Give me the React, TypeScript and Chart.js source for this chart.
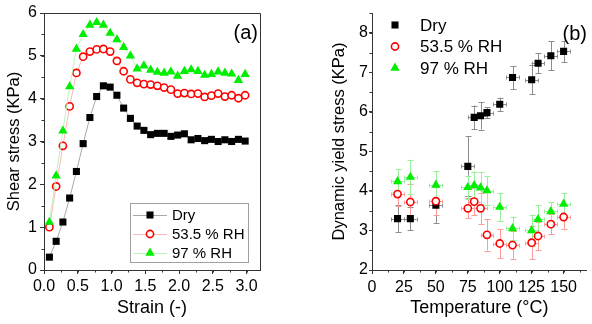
import React, { useEffect, useRef, useState } from 'react';
import { Chart, registerables } from 'chart.js';
import { drawPoint } from 'chart.js/helpers';

Chart.register(...registerables);

const FONT = "'Liberation Sans', Arial, Helvetica, sans-serif";

// ---------- Panel (a): shear stress vs strain ----------
const strain = [
  0.08, 0.18, 0.28, 0.38, 0.48, 0.58, 0.68, 0.78, 0.88, 0.98,
  1.08, 1.18, 1.28, 1.38, 1.48, 1.58, 1.68, 1.78, 1.88, 1.98,
  2.08, 2.18, 2.28, 2.38, 2.48, 2.58, 2.68, 2.78, 2.88, 2.98,
];
const dryStress = [
  0.3, 0.67, 1.12, 1.68, 2.3, 2.95, 3.56, 4.05, 4.3, 4.27,
  4.08, 3.78, 3.54, 3.36, 3.26, 3.16, 3.19, 3.19, 3.12, 3.15,
  3.18, 3.04, 3.07, 3.02, 3.05, 3.0, 3.04, 3.0, 3.05, 3.01,
];
const rh535Stress = [
  1.0, 1.95, 2.9, 3.82, 4.6, 4.98, 5.1, 5.15, 5.16, 5.1,
  4.88, 4.64, 4.45, 4.37, 4.34, 4.33, 4.3, 4.26, 4.21, 4.12,
  4.13, 4.11, 4.12, 4.04, 4.07, 4.12, 4.05, 4.08, 4.01, 4.08,
];
const rh97Stress = [
  1.12, 2.2, 3.25, 4.28, 5.16, 5.5, 5.72, 5.78, 5.72, 5.53,
  5.38, 5.2, 5.0, 4.7, 4.77, 4.67, 4.62, 4.6, 4.63, 4.53,
  4.64, 4.68, 4.64, 4.55, 4.57, 4.63, 4.6, 4.58, 4.43, 4.57,
];
const strainTicks = [0, 0.5, 1.0, 1.5, 2.0, 2.5, 3.0];
const stressTicks = [0, 1, 2, 3, 4, 5, 6];

// ---------- Panel (b): dynamic yield stress vs temperature ----------
const temperature = [20, 30, 50, 75, 80, 85, 90, 100, 110, 125, 130, 140, 150];
const dryYield = [3.3, 3.3, 3.64, 4.62, 5.86, 5.9, 5.98, 6.19, 6.87, 6.81, 7.23, 7.42, 7.53];
const dryYieldErr = [0.35, 0.3, 0.45, 0.76, 0.3, 0.35, 0.14, 0.17, 0.29, 0.37, 0.25, 0.37, 0.27];
const rh535Yield = [3.92, 3.72, 3.74, 3.56, 3.73, 3.56, 2.89, 2.67, 2.63, 2.69, 2.86, 3.16, 3.34];
const rh535YieldErr = [0.3, 0.45, 0.35, 0.25, 0.35, 0.4, 0.4, 0.37, 0.35, 0.42, 0.35, 0.25, 0.3];
const rh97Yield = [4.24, 4.35, 4.15, 4.09, 4.14, 4.08, 4.01, 3.59, 3.05, 3.0, 3.28, 3.48, 3.67];
const rh97YieldErr = [0.31, 0.44, 0.35, 0.3, 0.35, 0.4, 0.37, 0.36, 0.3, 0.4, 0.36, 0.24, 0.28];
const temperatureErr = [5, 5, 5, 5, 5, 5, 5, 5, 5, 5, 5, 5, 5];
const temperatureTicks = [0, 25, 50, 75, 100, 125, 150];
const temperatureTickLabels = ['0', '25', '50', '75', '100', '125', '150'];
const yieldTicks = [2, 3, 4, 5, 6, 7, 8];

const seriesLabels = ['Dry', '53.5 % RH', '97 % RH'];

const STYLES = [
  { pointStyle: 'rect', radius: 5, fill: '#000000', stroke: '#000000', bw: 0, line: '#a8a8a8', err: '#8c8c8c' },
  { pointStyle: 'circle', radius: 3.6, fill: '#ffffff', stroke: '#ff0000', bw: 1.6, line: '#ffb8b8', err: '#ff9a9a' },
  { pointStyle: 'triangle', radius: 5.4, fill: '#00ee00', stroke: '#00ee00', bw: 0, line: '#b8f5b8', err: '#99ee99' },
];

const AXIS = '#333333';

function useTicks(values: number[]) {
  return (scale: any) => {
    scale.ticks = values.map((value) => ({ value }));
  };
}

const minorTicksPlugin = {
  id: 'minorTicks',
  afterDraw(chart: any, _args: any, opts: any) {
    const { ctx, chartArea, scales } = chart;
    ctx.save();
    ctx.strokeStyle = AXIS;
    ctx.lineWidth = 1;
    ctx.beginPath();
    const xs = scales.x;
    for (let v = xs.min; v <= xs.max + 1e-9; v += opts.x) {
      const px = Math.round(xs.getPixelForValue(v)) + 0.5;
      ctx.moveTo(px, chartArea.bottom);
      ctx.lineTo(px, chartArea.bottom + 2.5);
    }
    const ys = scales.y;
    for (let v = ys.min; v <= ys.max + 1e-9; v += opts.y) {
      const py = Math.round(ys.getPixelForValue(v)) + 0.5;
      ctx.moveTo(chartArea.left, py);
      ctx.lineTo(chartArea.left - 2.5, py);
    }
    ctx.stroke();
    ctx.restore();
  },
};

const boxPlugin = {
  id: 'boxFrame',
  afterDraw(chart: any) {
    const { ctx, chartArea } = chart;
    ctx.save();
    ctx.strokeStyle = AXIS;
    ctx.lineWidth = 1;
    ctx.beginPath();
    const r = Math.round(chartArea.right) + 0.5;
    const t = Math.round(chartArea.top) + 0.5;
    ctx.moveTo(chartArea.left, t);
    ctx.lineTo(r, t);
    ctx.lineTo(r, chartArea.bottom);
    ctx.stroke();
    ctx.restore();
  },
};

const panelLabelPlugin = {
  id: 'panelLabel',
  afterDraw(chart: any, _a: any, opts: any) {
    const { ctx } = chart;
    ctx.save();
    ctx.font = `20px ${FONT}`;
    ctx.fillStyle = '#000';
    ctx.textAlign = 'right';
    ctx.textBaseline = 'middle';
    ctx.fillText(opts.text, opts.x, opts.y);
    ctx.restore();
  },
};

function drawMarker(ctx: any, s: any, x: number, y: number) {
  ctx.fillStyle = s.fill;
  ctx.strokeStyle = s.stroke;
  ctx.lineWidth = s.bw;
  drawPoint(ctx, { pointStyle: s.pointStyle, radius: s.radius, rotation: 0, borderWidth: s.bw } as any, x, y);
}

const legendAPlugin = {
  id: 'legendA',
  afterDraw(chart: any) {
    const { ctx } = chart;
    ctx.save();
    ctx.fillStyle = '#fff';
    ctx.fillRect(130.5, 203.5, 118, 59);
    ctx.strokeStyle = '#a0a0a0';
    ctx.lineWidth = 1;
    ctx.strokeRect(130.5, 203.5, 118, 59);
    seriesLabels.forEach((label, i) => {
      const s = STYLES[i];
      const y = 215 + i * 19;
      ctx.strokeStyle = s.line;
      ctx.lineWidth = 1;
      ctx.beginPath();
      ctx.moveTo(133, y + 0.5);
      ctx.lineTo(167, y + 0.5);
      ctx.stroke();
      drawMarker(ctx, s, 150, y);
      ctx.fillStyle = '#000';
      ctx.font = `15px ${FONT}`;
      ctx.textAlign = 'left';
      ctx.textBaseline = 'middle';
      ctx.fillText(label, 172, y + 1);
    });
    ctx.restore();
  },
};

const legendBPlugin = {
  id: 'legendB',
  afterDraw(chart: any) {
    const { ctx } = chart;
    ctx.save();
    seriesLabels.forEach((label, i) => {
      const s = STYLES[i];
      const y = 25 + i * 21.5;
      drawMarker(ctx, s, 95, y);
      ctx.fillStyle = '#000';
      ctx.font = `17px ${FONT}`;
      ctx.textAlign = 'left';
      ctx.textBaseline = 'middle';
      ctx.fillText(label, 120, y + 1);
    });
    ctx.restore();
  },
};

const yieldSeries = [
  { values: dryYield, err: dryYieldErr },
  { values: rh535Yield, err: rh535YieldErr },
  { values: rh97Yield, err: rh97YieldErr },
];

const errorBarPlugin = {
  id: 'errorBars',
  beforeDatasetsDraw(chart: any) {
    const { ctx, scales } = chart;
    const xs = scales.x;
    const ys = scales.y;
    ctx.save();
    ctx.lineWidth = 1;
    yieldSeries.forEach((ser, i) => {
      ctx.strokeStyle = STYLES[i].err;
      ctx.beginPath();
      temperature.forEach((t, j) => {
        const v = ser.values[j];
        const e = ser.err[j];
        const px = Math.round(xs.getPixelForValue(t)) + 0.5;
        const py = Math.round(ys.getPixelForValue(v)) + 0.5;
        const yTop = ys.getPixelForValue(v + e);
        const yBot = ys.getPixelForValue(v - e);
        ctx.moveTo(px, yTop);
        ctx.lineTo(px, yBot);
        ctx.moveTo(px - 3, Math.round(yTop) + 0.5);
        ctx.lineTo(px + 3, Math.round(yTop) + 0.5);
        ctx.moveTo(px - 3, Math.round(yBot) + 0.5);
        ctx.lineTo(px + 3, Math.round(yBot) + 0.5);
        const xL = xs.getPixelForValue(t - temperatureErr[j]);
        const xR = xs.getPixelForValue(t + temperatureErr[j]);
        ctx.moveTo(xL, py);
        ctx.lineTo(xR, py);
        ctx.moveTo(Math.round(xL) + 0.5, py - 2);
        ctx.lineTo(Math.round(xL) + 0.5, py + 2);
        ctx.moveTo(Math.round(xR) + 0.5, py - 2);
        ctx.lineTo(Math.round(xR) + 0.5, py + 2);
      });
      ctx.stroke();
    });
    ctx.restore();
  },
};

function axisCommon() {
  return {
    grid: { display: true, drawOnChartArea: false, drawTicks: true, tickLength: 4, color: AXIS, tickColor: AXIS },
    border: { display: true, color: AXIS, width: 1 },
  };
}

function datasetFor(i: number, data: any[], showLine: boolean) {
  const s = STYLES[i];
  return {
    label: seriesLabels[i],
    data,
    showLine,
    borderColor: s.line,
    borderWidth: 1,
    pointStyle: s.pointStyle,
    pointRadius: s.radius,
    pointHoverRadius: s.radius,
    pointBackgroundColor: s.fill,
    pointBorderColor: s.stroke,
    pointBorderWidth: s.bw,
    order: 2 - i,
  };
}

const B_LEFT = 300;

export default function App() {
  const refA = useRef<HTMLCanvasElement>(null);
  const refB = useRef<HTMLCanvasElement>(null);
  const [tempLabels, setTempLabels] = useState<{ x: number; y: number; text: string }[]>([]);

  useEffect(() => {
    document.body.style.margin = '0';
    Chart.defaults.font.family = FONT;
    Chart.defaults.color = '#000';

    const stressSets = [dryStress, rh535Stress, rh97Stress];
    const chartA = new Chart(refA.current as HTMLCanvasElement, {
      type: 'scatter',
      data: {
        datasets: stressSets.map((vals, i) =>
          datasetFor(i, strain.map((x, k) => ({ x, y: vals[k] })), true)
        ),
      },
      options: {
        responsive: false,
        animation: false,
        devicePixelRatio: 1,
        layout: { padding: { left: 0, top: 13, right: 40, bottom: 0 } },
        plugins: {
          legend: { display: false },
          tooltip: { enabled: false },
          minorTicks: { x: 0.25, y: 0.5 },
          panelLabel: { text: '(a)', x: 258, y: 33 },
        } as any,
        scales: {
          x: {
            type: 'linear',
            min: 0,
            max: 3.2,
            ...axisCommon(),
            afterBuildTicks: useTicks(strainTicks),
            afterFit: (s: any) => { s.height = 54; },
            ticks: {
              autoSkip: false,
              maxRotation: 0,
              padding: 3,
              font: { size: 16 },
              callback: (v: any) => Number(v).toFixed(1),
            },
            title: { display: true, text: 'Strain (-)', font: { size: 18 }, padding: { top: 0, bottom: 5 } },
          },
          y: {
            type: 'linear',
            min: 0,
            max: 6,
            ...axisCommon(),
            afterBuildTicks: useTicks(stressTicks),
            afterFit: (s: any) => { s.width = 44; },
            ticks: { autoSkip: false, padding: 3, font: { size: 16 } },
            title: { display: true, text: 'Shear stress (KPa)', font: { size: 16.5 }, padding: { top: 5, bottom: 0 } },
          },
        },
      } as any,
      plugins: [minorTicksPlugin, boxPlugin, panelLabelPlugin, legendAPlugin],
    });

    const chartB = new Chart(refB.current as HTMLCanvasElement, {
      type: 'scatter',
      data: {
        datasets: yieldSeries.map((ser, i) =>
          datasetFor(i, temperature.map((x, k) => ({ x, y: ser.values[k] })), false)
        ),
      },
      options: {
        responsive: false,
        animation: false,
        devicePixelRatio: 1,
        layout: { padding: { left: 0, top: 13, right: 2, bottom: 0 } },
        plugins: {
          legend: { display: false },
          tooltip: { enabled: false },
          minorTicks: { x: 12.5, y: 0.5 },
          panelLabel: { text: '(b)', x: 287, y: 34 },
        } as any,
        scales: {
          x: {
            type: 'linear',
            min: 0,
            max: 168,
            ...axisCommon(),
            afterBuildTicks: useTicks(temperatureTicks),
            afterFit: (s: any) => { s.height = 54; },
            ticks: { display: false, autoSkip: false, maxRotation: 0 },
            title: { display: true, text: 'Temperature (°C)', font: { size: 18 }, padding: { top: 0, bottom: 5 } },
          },
          y: {
            type: 'linear',
            min: 2,
            max: 8.5,
            ...axisCommon(),
            grid: { display: true, drawOnChartArea: false, drawTicks: true, tickLength: 3, color: AXIS, tickColor: AXIS },
            afterBuildTicks: useTicks(yieldTicks),
            afterFit: (s: any) => { s.width = 72; },
            ticks: { autoSkip: false, padding: 1, font: { size: 16 } },
            title: { display: true, text: 'Dynamic yield stress (KPa)', font: { size: 16.5 }, padding: { top: 30, bottom: 0 } },
          },
        },
      } as any,
      plugins: [minorTicksPlugin, errorBarPlugin, panelLabelPlugin, legendBPlugin],
    });

    // temperature tick labels as HTML text, placed with the chart's own x scale
    const xs: any = chartB.scales.x;
    const bottom = chartB.chartArea.bottom;
    setTempLabels(
      temperatureTicks.map((v, i) => ({
        x: B_LEFT + xs.getPixelForValue(v),
        y: bottom + 17,
        text: temperatureTickLabels[i],
      }))
    );

    return () => {
      chartA.destroy();
      chartB.destroy();
    };
  }, []);

  return (
    <div style={{ position: 'fixed', left: 0, top: 0, width: 592, height: 324, background: '#fff' }}>
      <canvas ref={refA} width={300} height={324} style={{ position: 'absolute', left: 0, top: 0 }} />
      <canvas ref={refB} width={292} height={324} style={{ position: 'absolute', left: B_LEFT, top: 0 }} />
      {tempLabels.map((l) => (
        <span
          key={l.text}
          style={{
            position: 'absolute',
            left: l.x,
            top: l.y,
            transform: 'translate(-50%, -50%)',
            font: `16px ${FONT}`,
            lineHeight: '16px',
            color: '#000',
            whiteSpace: 'nowrap',
          }}
        >
          {l.text}
        </span>
      ))}
    </div>
  );
}
